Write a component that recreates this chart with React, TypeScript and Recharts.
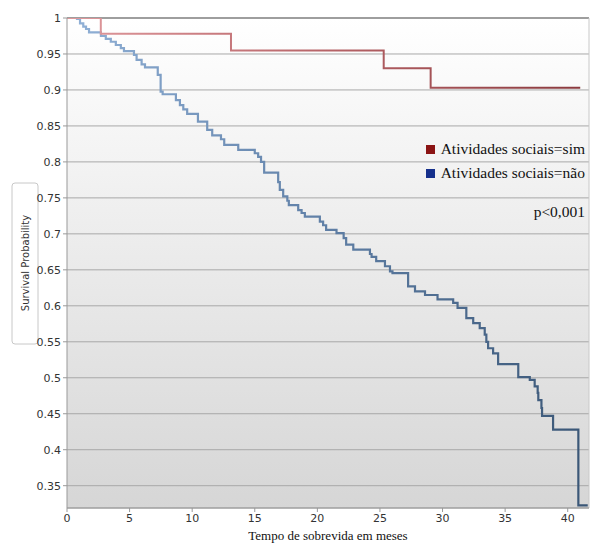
import { LineChart, Line, XAxis, YAxis, CartesianGrid, ReferenceLine } from 'recharts'

// Kaplan-Meier steps, group "sim"
const simTime = [0, 2.7, 13.1, 25.3, 29.05, 41.0]
const simSurv = [1, 0.978, 0.955, 0.930, 0.903, 0.903]

// Kaplan-Meier steps, group "não"
const naoTime = [
  0, 0.8, 1.04, 1.3, 1.52, 1.76, 2.71, 3.1, 3.5, 3.9, 4.3, 4.55, 5.35, 5.56, 5.96, 6.23,
  7.25, 7.48, 7.64, 8.7, 9.02, 9.29, 9.6, 10.46, 11.2, 11.6, 12.3, 12.56, 13.68, 15.0,
  15.27, 15.5, 15.75, 16.87, 17.0, 17.27, 17.6, 17.72, 18.47, 18.74, 19.0, 20.2, 20.46,
  20.7, 21.53, 22.1, 22.3, 22.87, 24.2, 24.33, 24.7, 25.4, 25.8, 26.0, 27.25, 27.8, 28.6,
  29.6, 30.85, 31.2, 31.9, 32.45, 32.97, 33.37, 33.5, 33.64, 34.04, 34.44, 36.05, 36.97,
  37.36, 37.6, 37.65, 37.9, 37.95, 38.83, 40.85, 41.6,
]
const naoSurv = [
  1, 0.9986, 0.9926, 0.988, 0.9847, 0.98, 0.975, 0.971, 0.967, 0.9625, 0.958, 0.954,
  0.9486, 0.9417, 0.9356, 0.9315, 0.921, 0.8977, 0.894, 0.886, 0.879, 0.873, 0.8667,
  0.856, 0.8444, 0.837, 0.8315, 0.8236, 0.8167, 0.812, 0.807, 0.8, 0.785, 0.772, 0.761,
  0.752, 0.746, 0.74, 0.733, 0.729, 0.724, 0.717, 0.712, 0.7056, 0.701, 0.694, 0.685,
  0.678, 0.672, 0.668, 0.662, 0.655, 0.648, 0.6454, 0.627, 0.62, 0.615, 0.609, 0.604,
  0.597, 0.583, 0.576, 0.569, 0.56, 0.55, 0.541, 0.534, 0.519, 0.501, 0.497, 0.488,
  0.479, 0.469, 0.458, 0.447, 0.428, 0.3226, 0.3226,
]

const xTicks = [0, 5, 10, 15, 20, 25, 30, 35, 40]
const yTicks = [0.35, 0.4, 0.45, 0.5, 0.55, 0.6, 0.65, 0.7, 0.75, 0.8, 0.85, 0.9, 0.95, 1]

const legendLabels = ['Atividades sociais=sim', 'Atividades sociais=não']
const legendColors = ['#8b1414', '#16308c']
const pValueText = 'p<0,001'

const simData = simTime.map((t, i) => ({ t, s: simSurv[i] }))
const naoData = naoTime.map((t, i) => ({ t, s: naoSurv[i] }))

const sansFont = 'DejaVu Sans, Verdana, sans-serif'
const serifFont = '"Liberation Serif", "Times New Roman", serif'
const tickStyle = { fontSize: 11, fill: '#333', fontFamily: sansFont }

function YLabelBox() {
  const cx = 25
  const cy = 263
  return (
    <g>
      <rect x={12} y={183} width={26} height={161} rx={3} fill="#fff" stroke="#c8c8c8" />
      <text
        x={cx}
        y={cy}
        transform={`rotate(-90 ${cx} ${cy})`}
        textAnchor="middle"
        dominantBaseline="central"
        fontSize={10}
        fill="#333"
        fontFamily={sansFont}
      >
        Survival Probability
      </text>
    </g>
  )
}

function XLabel({ viewBox }: any) {
  const cx = viewBox.x + viewBox.width / 2
  return (
    <text x={cx} y={540} textAnchor="middle" fontSize={13} fill="#111" fontFamily={serifFont}>
      Tempo de sobrevida em meses
    </text>
  )
}

function SurvivalLegend() {
  return (
    <div
      style={{
        position: 'absolute',
        top: 137,
        right: 5,
        fontFamily: serifFont,
        fontSize: 15.5,
        color: '#111',
        textAlign: 'right',
      }}
    >
      {legendLabels.map((label, i) => (
        <div key={label} style={{ display: 'flex', alignItems: 'center', justifyContent: 'flex-end', height: 24 }}>
          <span style={{ width: 9, height: 9, background: legendColors[i], marginRight: 6, display: 'inline-block' }} />
          <span>{label}</span>
        </div>
      ))}
      <div style={{ marginTop: 18 }}>{pValueText}</div>
    </div>
  )
}

export default function App() {
  return (
    <div style={{ position: 'absolute', left: 0, top: 0, width: 590, height: 544, background: '#fff' }}>
      <LineChart width={590} height={544} margin={{ top: 18, right: 1, bottom: 0, left: 0 }}>
        <defs>
          <linearGradient id="plotBg" x1="0" y1="0" x2="0" y2="1">
            <stop offset="0%" stopColor="#ffffff" />
            <stop offset="100%" stopColor="#d6d6d6" />
          </linearGradient>
          <linearGradient id="simStroke" x1="0" y1="0" x2="1" y2="0">
            <stop offset="0%" stopColor="#e09a9e" />
            <stop offset="50%" stopColor="#b76468" />
            <stop offset="100%" stopColor="#8a3a3e" />
          </linearGradient>
          <linearGradient id="naoStroke" x1="0" y1="0" x2="1" y2="0">
            <stop offset="0%" stopColor="#92b2d8" />
            <stop offset="45%" stopColor="#6383aa" />
            <stop offset="100%" stopColor="#3a5676" />
          </linearGradient>
        </defs>
        <CartesianGrid vertical={false} stroke="#a8a8a8" fill="url(#plotBg)" />
        <XAxis
          type="number"
          dataKey="t"
          domain={[0, 41.7]}
          ticks={xTicks}
          allowDataOverflow
          height={36}
          stroke="#999"
          tickSize={4}
          tick={tickStyle}
          label={<XLabel />}
        />
        <YAxis
          type="number"
          dataKey="s"
          domain={[0.319, 1]}
          ticks={yTicks}
          allowDataOverflow
          width={67}
          stroke="#999"
          tickSize={4}
          tick={tickStyle}
          label={<YLabelBox />}
        />
        {/* frame: darker top edge, light right edge */}
        <ReferenceLine y={1} stroke="#8c8c8c" strokeWidth={1.5} />
        <ReferenceLine x={41.7} stroke="#c8c8c8" />
        <Line
          data={naoData}
          dataKey="s"
          type="stepAfter"
          stroke="url(#naoStroke)"
          strokeWidth={2.2}
          dot={false}
          isAnimationActive={false}
        />
        <Line
          data={simData}
          dataKey="s"
          type="stepAfter"
          stroke="url(#simStroke)"
          strokeWidth={2}
          dot={false}
          isAnimationActive={false}
        />
      </LineChart>
      <SurvivalLegend />
    </div>
  )
}
